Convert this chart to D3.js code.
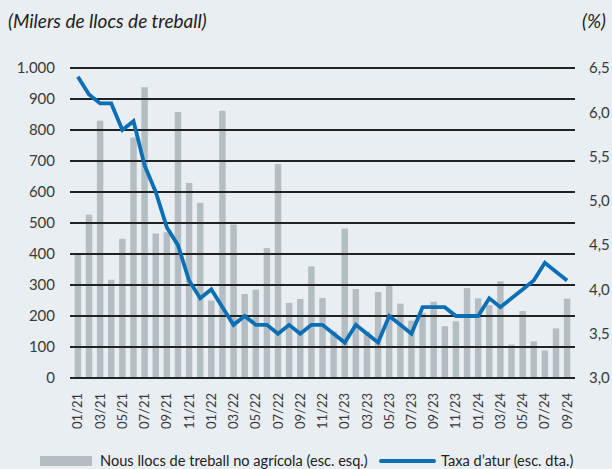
<!DOCTYPE html>
<html>
<head>
<meta charset="utf-8">
<script src="https://cdn.jsdelivr.net/npm/d3@7"></script>
<style>
  body { margin: 0; background: #e9eef2; }
  svg { display: block; font-family: Lato, sans-serif; }
</style>
</head>
<body>
<div id="chart"></div>
<script>
'use strict'
let months = ['01/21','02/21','03/21','04/21','05/21','06/21','07/21','08/21','09/21','10/21','11/21','12/21',
              '01/22','02/22','03/22','04/22','05/22','06/22','07/22','08/22','09/22','10/22','11/22','12/22',
              '01/23','02/23','03/23','04/23','05/23','06/23','07/23','08/23','09/23','10/23','11/23','12/23',
              '01/24','02/24','03/24','04/24','05/24','06/24','07/24','08/24','09/24'];
let jobs = [398, 527, 830, 317, 449, 776, 938, 466, 470, 858, 629, 565,
            250, 862, 495, 271, 285, 419, 690, 242, 255, 360, 258, 150,
            482, 287, 150, 277, 301, 240, 185, 210, 246, 167, 183, 290,
            257, 235, 312, 108, 216, 118, 89, 160, 256];
let rate = [6.4, 6.2, 6.1, 6.1, 5.8, 5.9, 5.4, 5.1, 4.7, 4.5, 4.1, 3.9,
            4.0, 3.8, 3.6, 3.7, 3.6, 3.6, 3.5, 3.6, 3.5, 3.6, 3.6, 3.5,
            3.4, 3.6, 3.5, 3.4, 3.7, 3.6, 3.5, 3.8, 3.8, 3.8, 3.7, 3.7,
            3.7, 3.9, 3.8, 3.9, 4.0, 4.1, 4.3, 4.2, 4.1];
let leftTicks = [0, 100, 200, 300, 400, 500, 600, 700, 800, 900, 1000];
let rightTicks = [3.0, 3.5, 4.0, 4.5, 5.0, 5.5, 6.0, 6.5];
let xTicks = months.filter(function(d, i) { return i % 2 === 0; });

let W = 612, H = 469;
let margin = {top: 68, right: 37, bottom: 91, left: 70};
let height = H - margin.top - margin.bottom;

let svg = d3.select('#chart').append('svg')
  .attr('width', W).attr('height', H);

let x = d3.scaleBand().domain(months).range([margin.left, W - margin.right]).padding(0.42);
let yL = d3.scaleLinear().domain([0, 1000]).range([margin.top + height, margin.top]);
let yR = d3.scaleLinear().domain([3, 6.5]).range([margin.top + height, margin.top]);

// bars
svg.selectAll('.bar')
  .data(jobs)
  .enter().append('rect')
  .attr('class', 'bar')
  .attr('fill', '#b4bec2')
  .attr('x', function(d, i) { return x(months[i]); })
  .attr('width', x.bandwidth())
  .attr('y', function(d) { return yL(d); })
  .attr('height', function(d) { return yL(0) - yL(d); });

// gridlines over the bars
svg.selectAll('.grid')
  .data(leftTicks)
  .enter().append('line')
  .attr('class', 'grid')
  .attr('x1', margin.left).attr('x2', W - margin.right)
  .attr('y1', function(d) { return yL(d); })
  .attr('y2', function(d) { return yL(d); })
  .attr('stroke', '#222')
  .attr('stroke-width', 1.2)
  .attr('shape-rendering', 'crispEdges');

// left axis
let leftAxis = svg.append('g')
  .attr('transform', 'translate(' + (margin.left - 15) + ',0)')
  .call(d3.axisLeft(yL).tickValues(leftTicks).tickSize(0).tickPadding(0)
    .tickFormat(function(d) { return d3.format(',')(d).replace(',', '.'); }));
leftAxis.select('.domain').remove();
leftAxis.selectAll('text').attr('font-size', 15).attr('fill', '#3a3a3a').attr('font-family', 'Lato, sans-serif');

// right axis
let rightAxis = svg.append('g')
  .attr('transform', 'translate(' + (W - margin.right + 14) + ',0)')
  .call(d3.axisRight(yR).tickValues(rightTicks).tickSize(0).tickPadding(0)
    .tickFormat(function(d) { return d3.format('.1f')(d).replace('.', ','); }));
rightAxis.select('.domain').remove();
rightAxis.selectAll('text').attr('font-size', 15).attr('fill', '#3a3a3a').attr('font-family', 'Lato, sans-serif');

// x labels
let xAxis = svg.append('g')
  .attr('transform', 'translate(0,' + (yL(0) + 15) + ')')
  .call(d3.axisBottom(x).tickValues(xTicks).tickSize(0).tickPadding(0));
xAxis.select('.domain').remove();
xAxis.selectAll('text')
  .attr('transform', 'rotate(-90)')
  .attr('text-anchor', 'end')
  .attr('x', 0).attr('y', 0).attr('dy', '0.35em')
  .attr('font-size', 13).attr('fill', '#3a3a3a').attr('font-family', 'Lato, sans-serif');

// line
let line = d3.line()
  .x(function(d, i) { return x(months[i]) + x.bandwidth() / 2; })
  .y(function(d) { return yR(d); });
svg.append('path')
  .datum(rate)
  .attr('fill', 'none')
  .attr('stroke', '#0a6fb5')
  .attr('stroke-width', 3.8)
  .attr('stroke-linejoin', 'miter')
  .attr('d', line);

// titles
svg.append('text')
  .attr('x', 8).attr('y', 28)
  .attr('font-size', 19).attr('font-style', 'italic').attr('fill', '#222')
  .text('(Milers de llocs de treball)');
svg.append('text')
  .attr('x', 606).attr('y', 28).attr('text-anchor', 'end')
  .attr('font-size', 19).attr('font-style', 'italic').attr('fill', '#222')
  .text('(%)');

// legend
let lg = svg.append('g').attr('transform', 'translate(0,461)');
lg.append('rect').attr('x', 40).attr('y', -5).attr('width', 52).attr('height', 10).attr('fill', '#b4bec2');
lg.append('text').attr('x', 100).attr('y', 5).attr('font-size', 14.6).attr('fill', '#222')
  .text('Nous llocs de treball no agrícola (esc. esq.)');
lg.append('line').attr('x1', 381).attr('x2', 434).attr('y1', 0).attr('y2', 0)
  .attr('stroke', '#0a6fb5').attr('stroke-width', 4).attr('stroke-linecap', 'round');
lg.append('text').attr('x', 441).attr('y', 5).attr('font-size', 14.6).attr('fill', '#222')
  .text('Taxa d’atur (esc. dta.)');
</script>
</body>
</html>
